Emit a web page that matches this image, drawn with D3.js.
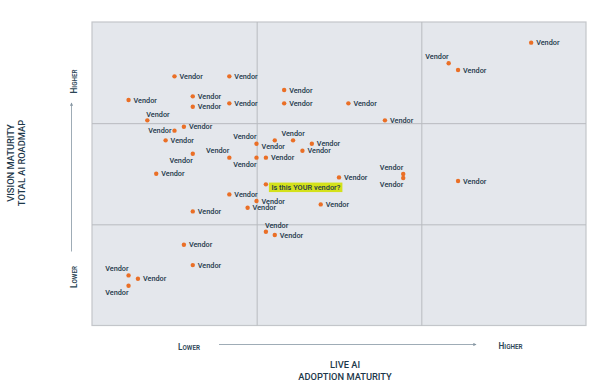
<!DOCTYPE html>
<html>
<head>
<meta charset="utf-8">
<script src="https://cdn.jsdelivr.net/npm/d3@7"></script>
<style>
  body { margin: 0; background: #fff; }
  svg { display: block; font-family: Roboto, "Liberation Sans", sans-serif; }
</style>
</head>
<body>
<svg id="chart" width="600" height="389"></svg>
<script>
// vendor positions, 0-100 on both axes (adoption maturity, vision maturity)
const adoption = [16.7, 27.8, 38.9, 7.4, 20.4, 20.4, 27.8, 38.9, 51.9, 59.3,
                  88.9, 72.2, 74.1, 11.2, 16.7, 18.6, 14.9, 20.4, 13.0, 27.8,
                  33.3, 33.3, 35.2, 37.0, 40.7, 42.6, 44.5, 50.0, 63.0, 63.0,
                  74.1, 27.8, 33.3, 31.5, 46.3, 20.4, 35.2, 37.0, 18.6, 20.4,
                  7.4, 9.3, 7.4];
const vision   = [82.1, 82.1, 77.6, 74.3, 75.5, 72.1, 73.2, 73.2, 73.2, 67.6,
                  93.2, 86.4, 84.2, 67.6, 64.2, 65.5, 61.0, 56.6, 50.0, 55.3,
                  59.9, 55.3, 55.3, 61.0, 61.0, 57.6, 59.9, 48.8, 49.9, 48.6,
                  47.6, 43.2, 41.0, 38.8, 39.9, 37.6, 30.9, 29.8, 26.6, 19.9,
                  16.5, 15.4, 13.1];
// which side of the dot the label sits on
const labelAt  = ["r", "r", "r", "r", "r", "r", "r", "r", "r", "r",
                  "r", "tl", "r", "tr", "l", "r", "r", "bl", "r", "tl",
                  "tl", "bl", "r", "b", "t", "r", "r", "r", "tl", "bl",
                  "r", "r", "r", "r", "r", "r", "tr", "r", "r", "r",
                  "tl", "r", "bl"];
const vendors = adoption.map(() => "Vendor");
const highlight = { name: "Is this YOUR vendor?", x: 35.2, y: 46.5 };

const thirds = [100 / 3, 200 / 3];

const svg = d3.select("#chart");
const x = d3.scaleLinear().domain([0, 100]).range([92, 586]);
const y = d3.scaleLinear().domain([0, 100]).range([325.5, 22]);
const ink = "#1d384a";

// plot panel
svg.append("rect")
    .attr("x", x(0)).attr("y", y(100))
    .attr("width", x(100) - x(0)).attr("height", y(0) - y(100))
    .attr("fill", "#e4e7ec")
    .attr("stroke", "#c3c6ca")
    .attr("stroke-width", 1.2);

// quadrant lines
const gx = svg.append("g")
    .attr("transform", `translate(0,${y(0)})`)
    .call(d3.axisBottom(x).tickValues(thirds).tickSize(-(y(0) - y(100))).tickFormat(""));
const gy = svg.append("g")
    .attr("transform", `translate(${x(0)},0)`)
    .call(d3.axisLeft(y).tickValues(thirds).tickSize(-(x(100) - x(0))).tickFormat(""));
[gx, gy].forEach(g => {
    g.select(".domain").remove();
    g.selectAll("line").attr("stroke", "#b8bbbf").attr("stroke-width", 1);
});

// label placement offsets
const place = {
    r:  { anchor: "start",  dx: 5,    dy: 0 },
    l:  { anchor: "end",    dx: -3,   dy: 0 },
    t:  { anchor: "middle", dx: 0,    dy: -6.5 },
    b:  { anchor: "middle", dx: -1.5, dy: 6.5 },
    tl: { anchor: "end",    dx: 0,    dy: -7 },
    tr: { anchor: "start",  dx: -1,   dy: -6 },
    bl: { anchor: "end",    dx: 0,    dy: 6.5 }
};

const pts = vendors.map((v, i) => ({ name: v, x: adoption[i], y: vision[i], at: labelAt[i] }));

// highlighted entry
const hx = x(highlight.x), hy = y(highlight.y);
svg.append("rect")
    .attr("x", hx + 3).attr("y", hy - 1.8)
    .attr("width", 73.5).attr("height", 9.5)
    .attr("fill", "#d4e11b");
svg.append("text")
    .attr("x", hx + 5.5).attr("y", hy + 3)
    .attr("dy", "0.35em")
    .attr("font-size", 7.4).attr("font-weight", 500)
    .attr("fill", ink)
    .text(highlight.name);

svg.append("g").selectAll("circle")
    .data(pts.concat([{ x: highlight.x, y: highlight.y }]))
    .join("circle")
    .attr("cx", d => x(d.x))
    .attr("cy", d => y(d.y))
    .attr("r", 2.2)
    .attr("fill", "#ea6f26");

svg.append("g").selectAll("text")
    .data(pts)
    .join("text")
    .attr("x", d => x(d.x) + place[d.at].dx)
    .attr("y", d => y(d.y) + place[d.at].dy)
    .attr("dy", "0.35em")
    .attr("text-anchor", d => place[d.at].anchor)
    .attr("font-size", 7.3)
    .attr("font-weight", 500)
    .attr("fill", ink)
    .text(d => d.name);

// axis arrows
const arrowCol = "#8797a3";
const defs = svg.append("defs");
defs.append("marker")
    .attr("id", "head")
    .attr("viewBox", "0 0 6 6").attr("refX", 5).attr("refY", 3)
    .attr("markerWidth", 4).attr("markerHeight", 4)
    .attr("orient", "auto")
    .append("path").attr("d", "M0,0L6,3L0,6Z").attr("fill", arrowCol);

svg.append("line")
    .attr("x1", 219).attr("x2", 476).attr("y1", 344.5).attr("y2", 344.5)
    .attr("stroke", arrowCol).attr("stroke-width", 0.8)
    .attr("marker-end", "url(#head)");
svg.append("line")
    .attr("x1", 71.5).attr("x2", 71.5).attr("y1", 251.5).attr("y2", 103)
    .attr("stroke", arrowCol).attr("stroke-width", 0.8)
    .attr("marker-end", "url(#head)");

// small caps end labels
function smallCaps(sel, word) {
    sel.append("tspan").attr("font-size", 8.2).text(word[0]);
    sel.append("tspan").attr("font-size", 6.3).text(word.slice(1));
}
const endLabel = (tx, ty, rot, word) => {
    const t = svg.append("text")
        .attr("transform", `translate(${tx},${ty}) rotate(${rot})`)
        .attr("text-anchor", "middle")
        .attr("dy", "0.35em")
        .attr("font-weight", 600)
        .attr("fill", "#2c4556");
    smallCaps(t, word);
};
endLabel(189, 344.5, 0, "LOWER");
endLabel(510.5, 343.5, 0, "HIGHER");
endLabel(71.5, 277, -90, "LOWER");
endLabel(71.5, 81.5, -90, "HIGHER");

// axis titles
const title = (tx, ty, rot, lines) => {
    const t = svg.append("text")
        .attr("transform", `translate(${tx},${ty}) rotate(${rot})`)
        .attr("text-anchor", "middle")
        .attr("font-size", 9.3)
        .attr("font-weight", 500)
        .attr("fill", ink);
    lines.forEach((l, i) => t.append("tspan").attr("x", 0).attr("dy", i ? 11.5 : 0).text(l));
};
title(345, 368, 0, ["LIVE AI", "ADOPTION MATURITY"]);
title(13.5, 163, -90, ["VISION MATURITY", "TOTAL AI ROADMAP"]);
</script>
</body>
</html>
